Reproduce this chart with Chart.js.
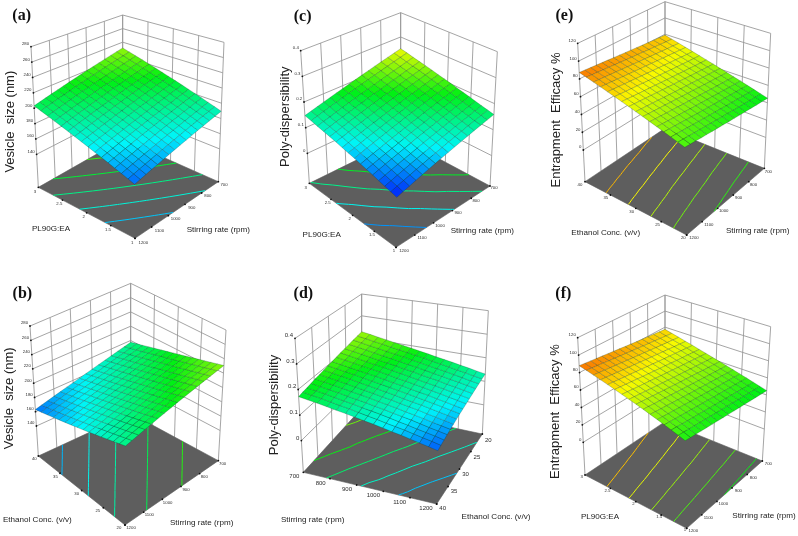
<!DOCTYPE html>
<html><head><meta charset="utf-8">
<style>html,body{margin:0;padding:0;background:#fff;width:798px;height:536px;overflow:hidden}
canvas{position:absolute;filter:blur(.35px)}</style>
<script src="https://cdn.jsdelivr.net/npm/chart.js@4"></script></head><body>
<script>
const stirTicks=[1200,1100,1000,900,800,700];
const stirTicksRev=[700,800,900,1000,1100,1200];
const plTicks=[3,2.5,2,1.5,1];
const ethTicks=[40,35,30,25,20];
const ethTicksRev=[40,35,30,25,20];
const sizeTicks=[280,260,240,220,200,180,160,140];
const pdiTicks=[0.4,0.3,0.2,0.1,0];
const eeTicks=[120,100,80,60,40,20,0];
const levelsA=[174,185,196.5,208,219.5];
const levelsB=[172,182,192,204,217];
const levelsC=[0.087,0.118,0.149,0.18,0.211];
const levelsD=[0.09,0.122,0.152,0.182,0.212];
const levelsE=[80.3,72.9,65.4,58,50.6];
const levelsF=[79.5,71,62.5,54,47];
const sizeA=[
[203,204.9,206.8,208.7,210.6,212.5,214.4,216.3,218.2,220.1,222,223.9,225.8,227.7,229.6,231.5],
[200.2,202.1,204,205.9,207.8,209.7,211.6,213.5,215.4,217.3,219.2,221.1,223,224.9,226.8,228.7],
[197.4,199.3,201.2,203.1,205,206.9,208.8,210.7,212.6,214.5,216.4,218.3,220.2,222.1,224,225.9],
[194.6,196.5,198.4,200.3,202.2,204.1,206,207.9,209.8,211.7,213.6,215.5,217.4,219.3,221.2,223.1],
[191.8,193.7,195.6,197.5,199.4,201.3,203.2,205.1,207,208.9,210.8,212.7,214.6,216.5,218.4,220.3],
[189,190.9,192.8,194.7,196.6,198.5,200.4,202.3,204.2,206.1,208,209.9,211.8,213.7,215.6,217.5],
[186.2,188.1,190,191.9,193.8,195.7,197.6,199.5,201.4,203.3,205.2,207.1,209,210.9,212.8,214.7],
[183.4,185.3,187.2,189.1,191,192.9,194.8,196.7,198.6,200.5,202.4,204.3,206.2,208.1,210,211.9],
[180.6,182.5,184.4,186.3,188.2,190.1,192,193.9,195.8,197.7,199.6,201.5,203.4,205.3,207.2,209.1],
[177.8,179.7,181.6,183.5,185.4,187.3,189.2,191.1,193,194.9,196.8,198.7,200.6,202.5,204.4,206.3],
[175,176.9,178.8,180.7,182.6,184.5,186.4,188.3,190.2,192.1,194,195.9,197.8,199.7,201.6,203.5],
[172.2,174.1,176,177.9,179.8,181.7,183.6,185.5,187.4,189.3,191.2,193.1,195,196.9,198.8,200.7],
[169.4,171.3,173.2,175.1,177,178.9,180.8,182.7,184.6,186.5,188.4,190.3,192.2,194.1,196,197.9],
[166.6,168.5,170.4,172.3,174.2,176.1,178,179.9,181.8,183.7,185.6,187.5,189.4,191.3,193.2,195.1],
[163.8,165.7,167.6,169.5,171.4,173.3,175.2,177.1,179,180.9,182.8,184.7,186.6,188.5,190.4,192.3],
[161,162.9,164.8,166.7,168.6,170.5,172.4,174.3,176.2,178.1,180,181.9,183.8,185.7,187.6,189.5]];
const sizeB=[
[163,165.3,167.6,169.9,172.2,174.5,176.8,179.1,181.4,183.7,186,188.3,190.6,192.9,195.2,197.5],
[165.2,167.5,169.8,172.1,174.4,176.7,179,181.3,183.6,185.9,188.2,190.5,192.8,195.1,197.4,199.7],
[167.4,169.7,172,174.3,176.6,178.9,181.2,183.5,185.8,188.1,190.4,192.7,195,197.3,199.6,201.9],
[169.6,171.9,174.2,176.5,178.8,181.1,183.4,185.7,188,190.3,192.6,194.9,197.2,199.5,201.8,204.1],
[171.8,174.1,176.4,178.7,181,183.3,185.6,187.9,190.2,192.5,194.8,197.1,199.4,201.7,204,206.3],
[174,176.3,178.6,180.9,183.2,185.5,187.8,190.1,192.4,194.7,197,199.3,201.6,203.9,206.2,208.5],
[176.2,178.5,180.8,183.1,185.4,187.7,190,192.3,194.6,196.9,199.2,201.5,203.8,206.1,208.4,210.7],
[178.4,180.7,183,185.3,187.6,189.9,192.2,194.5,196.8,199.1,201.4,203.7,206,208.3,210.6,212.9],
[180.6,182.9,185.2,187.5,189.8,192.1,194.4,196.7,199,201.3,203.6,205.9,208.2,210.5,212.8,215.1],
[182.8,185.1,187.4,189.7,192,194.3,196.6,198.9,201.2,203.5,205.8,208.1,210.4,212.7,215,217.3],
[185,187.3,189.6,191.9,194.2,196.5,198.8,201.1,203.4,205.7,208,210.3,212.6,214.9,217.2,219.5],
[187.2,189.5,191.8,194.1,196.4,198.7,201,203.3,205.6,207.9,210.2,212.5,214.8,217.1,219.4,221.7],
[189.4,191.7,194,196.3,198.6,200.9,203.2,205.5,207.8,210.1,212.4,214.7,217,219.3,221.6,223.9],
[191.6,193.9,196.2,198.5,200.8,203.1,205.4,207.7,210,212.3,214.6,216.9,219.2,221.5,223.8,226.1],
[193.8,196.1,198.4,200.7,203,205.3,207.6,209.9,212.2,214.5,216.8,219.1,221.4,223.7,226,228.3],
[196,198.3,200.6,202.9,205.2,207.5,209.8,212.1,214.4,216.7,219,221.3,223.6,225.9,228.2,230.5]];
const pdiC=[
[.147,.154,.161,.168,.175,.182,.189,.196,.203,.21,.217,.224,.231,.238,.245,.252],
[.141,.148,.155,.162,.169,.176,.183,.19,.197,.204,.211,.218,.225,.232,.239,.246],
[.134,.141,.148,.155,.162,.169,.176,.183,.19,.197,.204,.211,.218,.225,.232,.239],
[.128,.135,.142,.149,.156,.163,.17,.177,.184,.191,.198,.205,.212,.219,.226,.233],
[.122,.129,.136,.143,.15,.157,.164,.171,.178,.185,.192,.199,.206,.213,.22,.227],
[.116,.123,.13,.137,.144,.151,.158,.165,.172,.179,.186,.193,.2,.207,.214,.221],
[.109,.116,.123,.13,.137,.144,.151,.158,.165,.172,.179,.186,.193,.2,.207,.214],
[.103,.11,.117,.124,.131,.138,.145,.152,.159,.166,.173,.18,.187,.194,.201,.208],
[.097,.104,.111,.118,.125,.132,.139,.146,.153,.16,.167,.174,.181,.188,.195,.202],
[.09,.097,.104,.111,.118,.125,.132,.139,.146,.153,.16,.167,.174,.181,.188,.195],
[.084,.091,.098,.105,.112,.119,.126,.133,.14,.147,.154,.161,.168,.175,.182,.189],
[.078,.085,.092,.099,.106,.113,.12,.127,.134,.141,.148,.155,.162,.169,.176,.183],
[.071,.078,.085,.092,.099,.106,.113,.12,.127,.134,.141,.148,.155,.162,.169,.176],
[.065,.072,.079,.086,.093,.1,.107,.114,.121,.128,.135,.142,.149,.156,.163,.17],
[.059,.066,.073,.08,.087,.094,.101,.108,.115,.122,.129,.136,.143,.15,.157,.164],
[.053,.06,.067,.074,.081,.088,.095,.102,.109,.116,.123,.13,.137,.144,.151,.158]];
const pdiD=[
[.172,.176,.179,.183,.187,.19,.194,.198,.201,.205,.209,.212,.216,.22,.223,.227],
[.164,.168,.172,.175,.179,.183,.187,.191,.194,.198,.202,.206,.21,.213,.217,.221],
[.157,.161,.165,.168,.172,.176,.18,.184,.187,.191,.195,.199,.203,.206,.21,.214],
[.149,.153,.157,.161,.165,.169,.173,.177,.18,.184,.188,.192,.196,.2,.204,.208],
[.141,.145,.149,.153,.157,.161,.165,.169,.173,.177,.181,.185,.189,.193,.197,.201],
[.134,.138,.142,.146,.15,.154,.158,.162,.167,.171,.175,.179,.183,.187,.191,.195],
[.126,.13,.134,.139,.143,.147,.151,.155,.16,.164,.168,.172,.176,.181,.185,.189],
[.118,.122,.127,.131,.135,.139,.144,.148,.152,.156,.161,.165,.169,.173,.178,.182],
[.111,.115,.12,.124,.128,.133,.137,.141,.146,.15,.154,.159,.163,.167,.172,.176],
[.103,.107,.112,.116,.121,.125,.129,.134,.138,.143,.147,.151,.156,.16,.165,.169],
[.095,.1,.104,.109,.113,.118,.122,.127,.131,.136,.14,.145,.149,.154,.158,.163],
[.088,.093,.097,.102,.106,.111,.116,.12,.125,.129,.134,.139,.143,.148,.152,.157],
[.08,.085,.089,.094,.099,.103,.108,.113,.117,.122,.127,.131,.136,.141,.145,.15],
[.072,.077,.082,.086,.091,.096,.101,.106,.11,.115,.12,.125,.13,.134,.139,.144],
[.065,.07,.075,.079,.084,.089,.094,.099,.103,.108,.113,.118,.123,.127,.132,.137],
[.057,.062,.067,.072,.077,.082,.087,.092,.096,.101,.106,.111,.116,.121,.126,.131]];
const eeE=[
[87.3,86.7,86.2,85.6,85.1,84.5,83.9,83.4,82.8,82.3,81.7,81.1,80.6,80,79.5,78.9],
[85.1,84.5,84,83.4,82.9,82.3,81.7,81.2,80.6,80.1,79.5,78.9,78.4,77.8,77.3,76.7],
[82.8,82.2,81.7,81.1,80.6,80,79.4,78.9,78.3,77.8,77.2,76.6,76.1,75.5,75,74.4],
[80.6,80,79.5,78.9,78.4,77.8,77.2,76.7,76.1,75.6,75,74.4,73.9,73.3,72.8,72.2],
[78.3,77.7,77.2,76.6,76.1,75.5,74.9,74.4,73.8,73.3,72.7,72.1,71.6,71,70.5,69.9],
[76.1,75.5,75,74.4,73.9,73.3,72.7,72.2,71.6,71.1,70.5,69.9,69.4,68.8,68.3,67.7],
[73.8,73.2,72.7,72.1,71.6,71,70.4,69.9,69.3,68.8,68.2,67.6,67.1,66.5,66,65.4],
[71.6,71,70.5,69.9,69.4,68.8,68.2,67.7,67.1,66.6,66,65.4,64.9,64.3,63.8,63.2],
[69.3,68.7,68.2,67.6,67.1,66.5,65.9,65.4,64.8,64.3,63.7,63.1,62.6,62,61.5,60.9],
[67.1,66.5,66,65.4,64.9,64.3,63.7,63.2,62.6,62.1,61.5,60.9,60.4,59.8,59.3,58.7],
[64.8,64.2,63.7,63.1,62.6,62,61.4,60.9,60.3,59.8,59.2,58.6,58.1,57.5,57,56.4],
[62.6,62,61.5,60.9,60.4,59.8,59.2,58.7,58.1,57.6,57,56.4,55.9,55.3,54.8,54.2],
[60.3,59.7,59.2,58.6,58.1,57.5,56.9,56.4,55.8,55.3,54.7,54.1,53.6,53,52.5,51.9],
[58.1,57.5,57,56.4,55.9,55.3,54.7,54.2,53.6,53.1,52.5,51.9,51.4,50.8,50.3,49.7],
[55.8,55.2,54.7,54.1,53.6,53,52.4,51.9,51.3,50.8,50.2,49.6,49.1,48.5,48,47.4],
[53.6,53,52.5,51.9,51.4,50.8,50.2,49.7,49.1,48.6,48,47.4,46.9,46.3,45.8,45.2]];
const eeF=[
[87.9,87.2,86.5,85.8,85.1,84.4,83.7,83,82.2,81.5,80.8,80.1,79.4,78.7,78,77.3],
[85.3,84.6,84,83.3,82.6,81.9,81.2,80.6,79.9,79.2,78.5,77.9,77.2,76.5,75.8,75.1],
[82.7,82.1,81.4,80.8,80.1,79.5,78.8,78.2,77.5,76.9,76.2,75.6,74.9,74.3,73.6,73],
[80.1,79.5,78.9,78.2,77.6,77,76.4,75.8,75.1,74.5,73.9,73.3,72.7,72,71.4,70.8],
[77.5,76.9,76.3,75.7,75.2,74.6,74,73.4,72.8,72.2,71.6,71,70.5,69.9,69.3,68.7],
[74.9,74.3,73.8,73.2,72.7,72.1,71.5,71,70.4,69.9,69.3,68.7,68.2,67.6,67.1,66.5],
[72.3,71.8,71.2,70.7,70.2,69.7,69.1,68.6,68.1,67.6,67,66.5,66,65.5,64.9,64.4],
[69.7,69.2,68.7,68.2,67.7,67.2,66.7,66.2,65.7,65.2,64.7,64.2,63.7,63.2,62.7,62.2],
[67.2,66.7,66.3,65.8,65.3,64.8,64.4,63.9,63.4,62.9,62.5,62,61.5,61,60.6,60.1],
[64.6,64.2,63.7,63.3,62.8,62.4,61.9,61.5,61,60.6,60.1,59.7,59.2,58.8,58.3,57.9],
[62,61.6,61.2,60.8,60.3,59.9,59.5,59.1,58.7,58.3,57.9,57.5,57,56.6,56.2,55.8],
[59.4,59,58.6,58.2,57.9,57.5,57.1,56.7,56.3,55.9,55.5,55.1,54.8,54.4,54,53.6],
[56.8,56.4,56.1,55.7,55.4,55,54.7,54.3,54,53.6,53.3,52.9,52.6,52.2,51.9,51.5],
[54.2,53.9,53.5,53.2,52.9,52.6,52.2,51.9,51.6,51.3,50.9,50.6,50.3,50,49.6,49.3],
[51.6,51.3,51,50.7,50.4,50.1,49.8,49.6,49.3,49,48.7,48.4,48.1,47.8,47.5,47.2],
[49,48.7,48.5,48.2,47.9,47.7,47.4,47.1,46.9,46.6,46.3,46.1,45.8,45.5,45.3,45]];

// Layout calibration (positions in a 3x zoom frame relative to origin o).
const panels=[
{id:'(a)',tag:[65,48],box:[0,0,266,268],o:[0,0],z:sizeA,lev:levelsA,aT:plTicks,bT:stirTicks,zT:sizeTicks,zf:97,zt:280,cr:[148,277],
 fl:[[115,562],[405,715],[655,545],[368,418]],ce:[[93,140],[402,252],[672,127],[368,45]],
 aO:[[-3.3,4.3],[-2.7,4]],bO:[[8.3,4],[5.7,2.7]],fs:4.3,
 yT:['Vesicle  size (nm)',30,365],aN:['PL90G:EA',153,687],bN:['Stirring rate (rpm)',655,688]},
{id:'(c)',tag:[98,52],box:[266,0,274,268],o:[270,0],z:pdiC,lev:levelsC,aT:plTicks,bT:stirTicks,zT:pdiTicks,zf:-.117,zt:.4,cr:[.045,.325],
 fl:[[118,550],[378,742],[660,558],[392,415]],ce:[[92,152],[385,286],[682,155],[392,38]],
 aO:[[-3.7,4],[-2,3.3]],bO:[[8,3.3],[4,2.3]],fs:4.3,
 yT:['Poly-dispersibility',47,350],aN:['PL90G:EA',155,703],bN:['Stirring rate (rpm)',637,692]},
{id:'(e)',tag:[103,48],box:[540,0,258,268],o:[530,0],z:eeE,lev:levelsE,aT:ethTicks,bT:stirTicks,zT:eeTicks,zf:-35.6,zt:120,cr:[-8,100],
 fl:[[165,545],[470,705],[703,505],[405,385]],ce:[[143,130],[460,246],[722,100],[405,5]],
 aO:[[-5,2.7],[-3.3,3.3]],bO:[[7.3,2.7],[4,3.3]],fs:4.3,
 yT:['Entrapment  Efficacy %',78,360],aN:['Ethanol Conc. (v/v)',227,697],bN:['Stirring rate (rpm)',683,692]},
{id:'(b)',tag:[67,72],box:[0,268,266,268],o:[0,270],z:sizeB,lev:levelsB,aT:ethTicks,bT:stirTicks,zT:sizeTicks,zf:98,zt:280,cr:[148,277],
 fl:[[115,558],[375,765],[655,572],[392,430]],ce:[[90,168],[378,325],[678,180],[392,40]],
 aO:[[-4,3],[-6,3.3]],bO:[[6,3.3],[4.3,2.7]],fs:4.3,
 yT:['Vesicle  size (nm)',28,385],aN:['Ethanol Conc. (v/v)',112,750],bN:['Stirring rate (rpm)',605,757]},
{id:'(d)',tag:[100,73],box:[266,268,274,268],o:[270,270],z:pdiD,lev:levelsD,aT:stirTicksRev,bT:ethTicksRev,zT:pdiTicks,zf:-.124,zt:.4,cr:[.03,.33],
 fl:[[100,607],[500,702],[637,492],[275,415]],ce:[[75,205],[510,239],[655,122],[275,72]],
 aO:[[-9,4.3],[-10.7,4.3]],bO:[[6,4.3],[6,6.7]],fs:6,
 yT:['Poly-dispersibility',12,405],aN:['Stirring rate (rpm)',128,748],bN:['Ethanol Conc. (v/v)',678,740]},
{id:'(f)',tag:[100,72],box:[540,268,258,268],o:[530,270],z:eeF,lev:levelsF,aT:plTicks,bT:stirTicks,zT:eeTicks,zf:-37.5,zt:120,cr:[-8,100],
 fl:[[165,615],[470,775],[697,573],[405,455]],ce:[[143,203],[462,296],[722,170],[405,75]],
 aO:[[-3.3,2.3],[-1.7,1.7]],bO:[[6.7,2.3],[6,3.3]],fs:4.3,
 yT:['Entrapment  Efficacy %',75,425],aN:['PL90G:EA',210,740],bN:['Stirring rate (rpm)',702,738]}
];

const stops=[[0,0,250],[0,245,250],[0,240,20],[250,250,0],[250,0,0]];
function heat(z,cr){let c=(z-cr[0])/(cr[1]-cr[0]);c=Math.max(0,Math.min(.999,c))*4;const k=Math.floor(c),f=c-k,A=stops[k],B=stops[k+1];
 return 'rgb('+A.map((v,n)=>Math.round(v+(B[n]-v)*f)).join(',')+')';}
const mix=(P,Q,t)=>[P[0]+(Q[0]-P[0])*t,P[1]+(Q[1]-P[1])*t];
function quad(q,a,b){return mix(mix(q[0],q[1],a),mix(q[3],q[2],a),b);}

function build(p){
 const g=(pt)=>({x:pt[0]/3+p.o[0],y:pt[1]/3+p.o[1]});
 const tOf=z=>(z-p.zf)/(p.zt-p.zf);
 const P=(a,b,z)=>{const F=quad(p.fl,a,b),C=quad(p.ce,a,b);return g(mix(F,C,tOf(z)));};
 const ds=[];
 const add=(data,o)=>ds.push(Object.assign({data,showLine:true,pointRadius:0,borderWidth:1,borderColor:'#8c8c8c',fill:false,tension:0,clip:false},o));
 const frac=(arr,v)=>(v-arr[0])/(arr[arr.length-1]-arr[0]);
 const wall={borderColor:'#959595',borderWidth:.85};
 p.bT.forEach(v=>{const b=frac(p.bT,v);add([P(0,b,p.zf),P(0,b,p.zt)],wall);});
 p.aT.forEach(v=>{const a=frac(p.aT,v);add([P(a,1,p.zf),P(a,1,p.zt)],wall);});
 p.zT.forEach(z=>{add([P(0,0,z),P(0,1,z),P(1,1,z)],wall);});
 add([P(0,0,p.zf),P(1,0,p.zf),P(1,1,p.zf),P(0,1,p.zf),P(0,0,p.zf)],{fill:'shape',backgroundColor:'#5e5e5e',borderColor:'#5a5a5a',borderWidth:.6});
 const Z=p.z,n=Z.length-1,m=Z[0].length-1;
 p.lev.forEach(l=>{const pts=[];
  for(let i=0;i<n;i++)for(let j=0;j<m;j++){
   const c=[[i,j],[i+1,j],[i+1,j+1],[i,j+1]],cross=[];
   for(let k=0;k<4;k++){const A=c[k],B=c[(k+1)%4],za=Z[A[0]][A[1]],zb=Z[B[0]][B[1]];
    if((za<l)!==(zb<l)){const f=(l-za)/(zb-za);cross.push(P((A[0]+(B[0]-A[0])*f)/n,(A[1]+(B[1]-A[1])*f)/m,p.zf));}}
   if(cross.length===2)pts.push(cross[0],cross[1],{x:null,y:null});
  }
  add(pts,{borderColor:heat(l,p.cr),borderWidth:1,spanGaps:false});});
 const marks=[];
 p.aT.forEach(v=>marks.push(P(frac(p.aT,v),0,p.zf)));
 p.bT.forEach(v=>marks.push(P(1,frac(p.bT,v),p.zf)));
 p.zT.forEach(z=>marks.push(P(0,0,z)));
 add(marks,{showLine:false,pointRadius:.9,pointBackgroundColor:'#111',pointBorderWidth:0});
 for(let i=0;i<n;i++)for(let j=0;j<m;j++){
  const a0=i/n,a1=(i+1)/n,b0=j/m,b1=(j+1)/m;
  const avg=(Z[i][j]+Z[i+1][j]+Z[i+1][j+1]+Z[i][j+1])/4;
  add([P(a0,b0,Z[i][j]),P(a1,b0,Z[i+1][j]),P(a1,b1,Z[i+1][j+1]),P(a0,b1,Z[i][j+1]),P(a0,b0,Z[i][j])],
   {fill:'shape',backgroundColor:heat(avg,p.cr),borderColor:'rgba(0,50,35,.42)',borderWidth:.55});
 }
 ds.forEach((d,i)=>{d.order=ds.length-i;});

 const labels={id:'labels',afterDatasetsDraw(ch){
  const c=ch.ctx,sx=ch.scales.x,sy=ch.scales.y;
  const T=(s,x,y,font,col,al,rot)=>{c.save();c.translate(sx.getPixelForValue(x),sy.getPixelForValue(y));if(rot)c.rotate(rot);
   c.font=font;c.fillStyle=col;c.textAlign=al||'center';c.textBaseline='middle';c.fillText(s,0,0);c.restore();};
  const tick=p.fs+'px "Liberation Sans"';
  p.aT.forEach(v=>{const a=frac(p.aT,v),q=P(a,0,p.zf);T(String(v),q.x+p.aO[0][0]+(p.aO[1][0]-p.aO[0][0])*a,q.y+p.aO[0][1]+(p.aO[1][1]-p.aO[0][1])*a,tick,'#2b2b2b');});
  p.bT.forEach(v=>{const b=frac(p.bT,v),q=P(1,b,p.zf);T(String(v),q.x+p.bO[0][0]+(p.bO[1][0]-p.bO[0][0])*b,q.y+p.bO[0][1]+(p.bO[1][1]-p.bO[0][1])*b,tick,'#2b2b2b');});
  p.zT.forEach(z=>{const q=P(0,0,z);T(String(z),q.x-1.9,q.y-2.7,tick,'#2b2b2b','right');});
  const X=v=>v/3+p.o[0],Y=v=>v/3+p.o[1];
  T(p.id,X(p.tag[0]),Y(p.tag[1]),'bold 16px "Liberation Serif"','#111');
  T(p.yT[0],X(p.yT[1]),Y(p.yT[2]),'13px "Liberation Sans"','#222','center',-Math.PI/2);
  T(p.aN[0],X(p.aN[1]),Y(p.aN[2]),'8.1px "Liberation Sans"','#222');
  T(p.bN[0],X(p.bN[1]),Y(p.bN[2]),'8.1px "Liberation Sans"','#222');
 }};

 const cv=document.createElement('canvas');
 const [bx,by,bw,bh]=p.box;
 cv.width=bw;cv.height=bh;cv.style.left=bx+'px';cv.style.top=by+'px';cv.style.width=bw+'px';cv.style.height=bh+'px';
 document.body.appendChild(cv);
 new Chart(cv,{type:'scatter',data:{datasets:ds},plugins:[labels],options:{
  responsive:false,animation:false,devicePixelRatio:1,layout:{padding:0,autoPadding:false},events:[],
  plugins:{legend:{display:false},tooltip:{enabled:false},title:{display:false}},
  scales:{x:{type:'linear',display:false,min:bx,max:bx+bw},y:{type:'linear',display:false,reverse:true,min:by,max:by+bh}}
 }});
}
panels.forEach(build);
</script></body></html>
